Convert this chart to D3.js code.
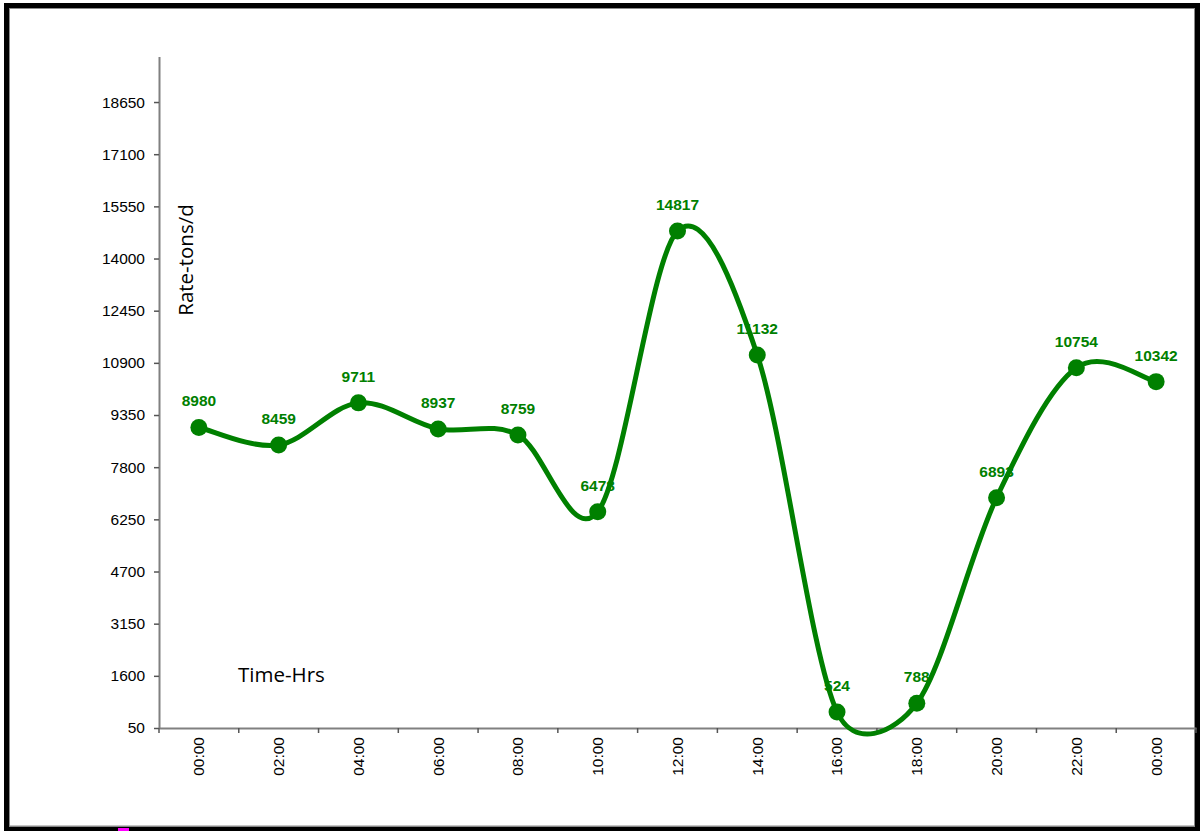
<!DOCTYPE html>
<html>
<head>
<meta charset="utf-8">
<script src="https://cdn.jsdelivr.net/npm/d3@7"></script>
<style>
  html, body { margin: 0; padding: 0; background: #fff; }
  svg { display: block; }
</style>
</head>
<body>
<svg id="chart" width="1203" height="831"></svg>
<script>
// Hourly rate readings over one day
const hours = ["00:00", "02:00", "04:00", "06:00", "08:00", "10:00", "12:00",
               "14:00", "16:00", "18:00", "20:00", "22:00", "00:00 "];
const rates = [8980, 8459, 9711, 8937, 8759, 6478, 14817, 11132, 524, 788, 6893, 10754, 10342];
const yTicks = [50, 1600, 3150, 4700, 6250, 7800, 9350, 10900, 12450, 14000, 15550, 17100, 18650];
const yMax = 20000;

const green = "#008000";
const svg = d3.select("#chart");

// frame
svg.append("rect")
  .attr("x", 6.5).attr("y", 5.5).attr("width", 1191).attr("height", 823.5)
  .attr("fill", "#fff").attr("stroke", "#000").attr("stroke-width", 5);
svg.append("rect")
  .attr("x", 9.5).attr("y", 8.5).attr("width", 1185).attr("height", 817.5)
  .attr("fill", "none").attr("stroke", "#8a8a8a").attr("stroke-width", 1);
svg.append("rect")
  .attr("x", 118).attr("y", 828).attr("width", 11).attr("height", 3)
  .attr("fill", "#ff00ff");

const x = d3.scaleBand().domain(hours).range([159, 1196]).padding(0);
const y = d3.scaleLinear().domain([50, yMax]).range([728, 56.6]);

// y axis
const yAxis = svg.append("g")
  .attr("transform", "translate(159,0)")
  .call(d3.axisLeft(y).tickValues(yTicks).tickSize(5).tickSizeOuter(0).tickPadding(9)
        .tickFormat(d3.format("d")));
yAxis.select(".domain").attr("stroke", "#808080").attr("stroke-width", 2);
yAxis.selectAll(".tick line").attr("stroke", "#555").attr("stroke-width", 1.5);
yAxis.selectAll(".tick text")
  .attr("font-family", "Liberation Sans, Arial, sans-serif")
  .attr("font-size", 15.5).attr("fill", "#000");

// x axis with ticks between categories
const xAxis = svg.append("g")
  .attr("transform", "translate(0,728)")
  .call(d3.axisBottom(x).tickSize(0).tickSizeOuter(0).tickPadding(0)
        .tickFormat(d => d.trim()));
xAxis.select(".domain").attr("stroke", "#808080").attr("stroke-width", 2);
xAxis.selectAll(".tick text")
  .attr("font-family", "Liberation Sans, Arial, sans-serif")
  .attr("font-size", 15.5).attr("fill", "#000")
  .attr("text-anchor", "end")
  .attr("transform", "translate(0,9) rotate(-90)")
  .attr("x", 0).attr("y", 0).attr("dy", "0.35em");
xAxis.selectAll(".boundary")
  .data(hours.map(h => x(h)).concat([x(hours[hours.length - 1]) + x.bandwidth()]))
  .join("line")
  .attr("class", "boundary")
  .attr("x1", d => d).attr("x2", d => d)
  .attr("y1", 0).attr("y2", 5)
  .attr("stroke", "#555").attr("stroke-width", 1.5);

// axis titles
svg.append("text")
  .attr("transform", "translate(193,260) rotate(-90)")
  .attr("text-anchor", "middle")
  .attr("font-family", "Open Sans, sans-serif")
  .attr("font-size", 20.5).attr("fill", "#000")
  .text("Rate-tons/d");
svg.append("text")
  .attr("x", 238).attr("y", 682)
  .attr("font-family", "Open Sans, sans-serif")
  .attr("font-size", 20.5).attr("fill", "#000")
  .text("Time-Hrs");

const cx = (d, i) => x(hours[i]) + x.bandwidth() / 2;

// value labels (sit beneath the line)
svg.append("g").selectAll("text")
  .data(rates)
  .join("text")
  .attr("x", cx)
  .attr("y", d => y(d) - 21)
  .attr("text-anchor", "middle")
  .attr("font-family", "Liberation Sans, Arial, sans-serif")
  .attr("font-weight", "bold")
  .attr("font-size", 15.5)
  .attr("fill", green)
  .text(d => d);

// smoothed series line: Bezier segments with 1/6 neighbour tangents,
// each handle capped at half the segment length
function smoothPath(pts) {
  const p = d3.path();
  const dist = (a, b) => Math.hypot(b[0] - a[0], b[1] - a[1]);
  p.moveTo(pts[0][0], pts[0][1]);
  for (let i = 0; i < pts.length - 1; i++) {
    const p0 = pts[Math.max(i - 1, 0)], p1 = pts[i], p2 = pts[i + 1],
          p3 = pts[Math.min(i + 2, pts.length - 1)];
    const d12 = dist(p1, p2), d02 = dist(p0, p2), d13 = dist(p1, p3);
    const f1 = d02 / 6 > d12 / 2 ? d12 / (2 * d02) : 1 / 6;
    const f2 = d13 / 6 > d12 / 2 ? d12 / (2 * d13) : 1 / 6;
    p.bezierCurveTo(
      p1[0] + (p2[0] - p0[0]) * f1, p1[1] + (p2[1] - p0[1]) * f1,
      p2[0] - (p3[0] - p1[0]) * f2, p2[1] - (p3[1] - p1[1]) * f2,
      p2[0], p2[1]);
  }
  return p.toString();
}
const pts = rates.map((d, i) => [cx(d, i), y(d)]);
svg.append("path")
  .attr("d", smoothPath(pts))
  .attr("fill", "none")
  .attr("stroke", green)
  .attr("stroke-width", 5);

// markers
svg.append("g").selectAll("circle")
  .data(rates)
  .join("circle")
  .attr("cx", cx)
  .attr("cy", d => y(d))
  .attr("r", 8.5)
  .attr("fill", green);
</script>
</body>
</html>
